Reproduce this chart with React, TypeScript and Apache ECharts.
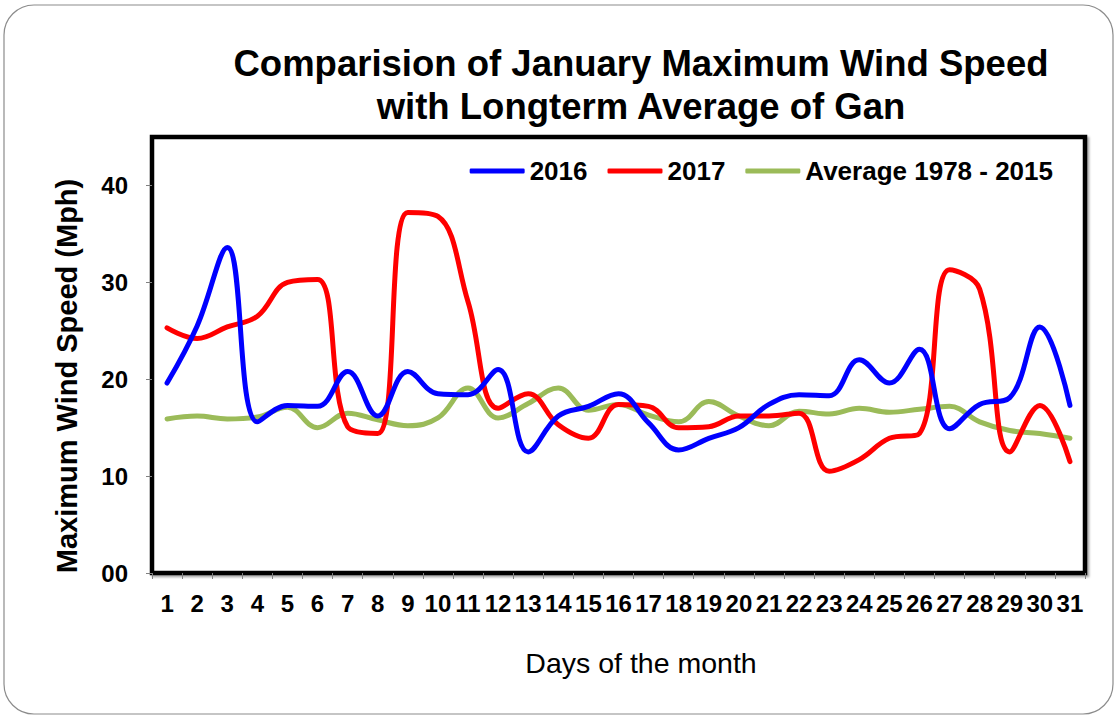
import React, { useEffect, useRef } from 'react';
import * as echarts from 'echarts';

const days = ['1', '2', '3', '4', '5', '6', '7', '8', '9', '10', '11', '12', '13', '14', '15', '16', '17', '18', '19', '20', '21', '22', '23', '24', '25', '26', '27', '28', '29', '30', '31'];

const speed2016 = [19.6, 25.5, 33.6, 15.6, 17.3, 17.2, 20.8, 16.2, 20.8, 18.5, 18.4, 21.0, 12.5, 16.2, 17.2, 18.5, 15.5, 12.7, 13.9, 15.0, 17.4, 18.4, 18.3, 22.0, 19.6, 23.1, 14.9, 17.4, 18.1, 25.4, 17.3];

const speed2017 = [25.3, 24.2, 25.4, 26.5, 30.0, 30.3, 15.1, 14.4, 37.2, 36.8, 28.0, 17.0, 18.5, 15.3, 13.9, 17.4, 17.2, 15.0, 15.1, 16.2, 16.2, 16.5, 10.5, 11.7, 13.9, 14.4, 31.3, 29.3, 12.5, 17.3, 11.5];

const average1978to2015 = [15.9, 16.2, 15.9, 16.1, 17.1, 15.0, 16.5, 15.8, 15.2, 16.0, 19.1, 16.0, 17.5, 19.1, 16.8, 17.4, 16.3, 15.6, 17.7, 16.2, 15.2, 16.7, 16.4, 17.0, 16.6, 16.9, 17.2, 15.6, 14.7, 14.4, 13.9];

const seriesNames = ['2016', '2017', 'Average 1978 - 2015'];
const seriesColors = ['#0000FF', '#FF0000', '#9BBB59'];

const yMin = 0;
const yMax = 45;
const yInterval = 10;

const titleLines = ['Comparision of January Maximum Wind Speed', 'with Longterm Average of Gan'];
const yAxisTitle = 'Maximum Wind Speed (Mph)';
const xAxisTitle = 'Days of the month';

const FONT = "'Liberation Sans', Arial, sans-serif";

export default function App() {
  const ref = useRef<HTMLDivElement>(null);

  useEffect(() => {
    document.body.style.margin = '0';
    if (!ref.current) return;
    const chart = echarts.init(ref.current, null, { renderer: 'svg' });
    const allData = [speed2016, speed2017, average1978to2015];
    chart.setOption({
      animation: false,
      backgroundColor: '#ffffff',
      textStyle: { fontFamily: FONT },
      grid: {
        left: 152,
        top: 137,
        width: 933,
        height: 436,
        show: true,
        borderColor: '#000000',
        borderWidth: 4.5,
        backgroundColor: '#ffffff',
        shadowColor: 'rgba(0,0,0,0.35)',
        shadowBlur: 2,
        shadowOffsetX: 2,
        shadowOffsetY: 2,
      },
      legend: {
        right: 60,
        top: 153,
        icon: 'roundRect',
        itemWidth: 55,
        itemHeight: 5,
        itemGap: 20,
        data: seriesNames,
        textStyle: { fontFamily: FONT, fontWeight: 'bold', fontSize: 26, color: '#000' },
      },
      xAxis: {
        type: 'category',
        data: days,
        boundaryGap: true,
        axisLine: { show: false },
        axisTick: { show: true, length: 6, lineStyle: { color: '#808080', width: 1 } },
        axisLabel: {
          interval: 0,
          margin: 18,
          fontFamily: FONT,
          fontWeight: 'bold',
          fontSize: 24,
          color: '#000',
        },
        splitLine: { show: false },
      },
      yAxis: {
        type: 'value',
        min: yMin,
        max: yMax,
        interval: yInterval,
        axisLine: { show: false },
        axisTick: { show: true, length: 6, lineStyle: { color: '#808080', width: 1 } },
        axisLabel: {
          margin: 24,
          showMaxLabel: false,
          fontFamily: FONT,
          fontWeight: 'bold',
          fontSize: 24,
          color: '#000',
          formatter: (v: number) => (v === 0 ? '00' : String(v)),
        },
        splitLine: { show: false },
      },
      series: seriesNames.map((name, i) => ({
        name,
        type: 'line',
        data: allData[i],
        smooth: 0.4,
        symbol: 'none',
        showSymbol: false,
        color: seriesColors[i],
        lineStyle: { color: seriesColors[i], width: 5, cap: 'round', join: 'round' },
        z: 3 - i,
      })),
      graphic: [
        {
          type: 'rect',
          shape: { x: 4, y: 5, width: 1109, height: 709, r: 30 },
          style: { fill: 'none', stroke: '#8c8c8c', lineWidth: 1.2 },
          silent: true,
          z: -10,
        },
        {
          type: 'text',
          x: 641,
          y: 63,
          style: {
            text: titleLines[0],
            font: `bold 36.5px ${FONT}`,
            fill: '#000',
            textAlign: 'center',
            textVerticalAlign: 'middle',
          },
        },
        {
          type: 'text',
          x: 641,
          y: 106,
          style: {
            text: titleLines[1],
            font: `bold 36.5px ${FONT}`,
            fill: '#000',
            textAlign: 'center',
            textVerticalAlign: 'middle',
          },
        },
        {
          type: 'text',
          x: 67,
          y: 376,
          rotation: Math.PI / 2,
          style: {
            text: yAxisTitle,
            font: `bold 29px ${FONT}`,
            fill: '#000',
            textAlign: 'center',
            textVerticalAlign: 'middle',
          },
        },
        {
          type: 'text',
          x: 641,
          y: 663,
          style: {
            text: xAxisTitle,
            font: `28.5px ${FONT}`,
            fill: '#000',
            textAlign: 'center',
            textVerticalAlign: 'middle',
          },
        },
      ],
    });
    return () => chart.dispose();
  }, []);

  return <div ref={ref} style={{ width: 1118, height: 719 }} />;
}
